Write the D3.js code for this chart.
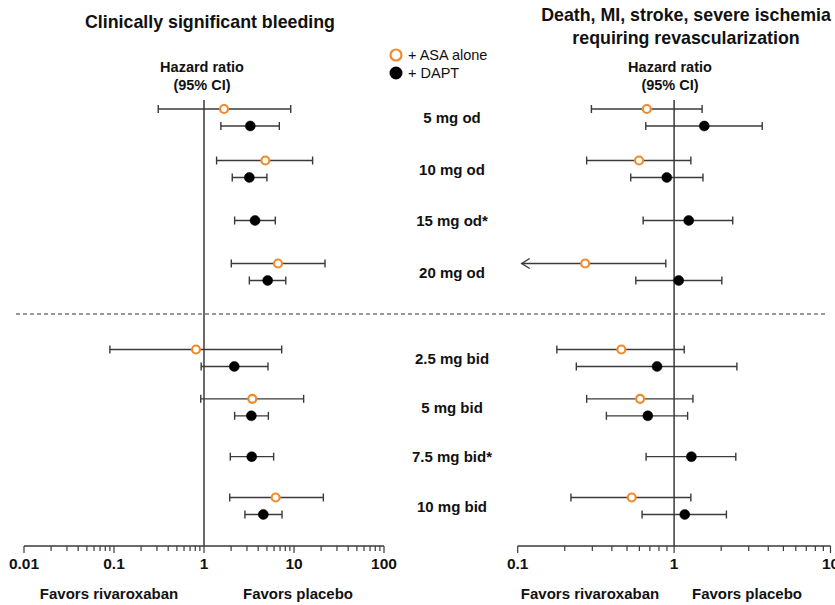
<!DOCTYPE html>
<html>
<head>
<meta charset="utf-8">
<script src="https://cdn.jsdelivr.net/npm/d3@7"></script>
<style>
  body { margin: 0; background: #fff; }
  svg { font-family: "Liberation Sans", Arial, sans-serif; }
</style>
</head>
<body>
<svg id="chart-svg" width="835" height="605"></svg>
<script>
// doses, two sections split by dashed line
const odDoses = ["5 mg od", "10 mg od", "15 mg od*", "20 mg od"];
const bidDoses = ["2.5 mg bid", "5 mg bid", "7.5 mg bid*", "10 mg bid"];
const doses = odDoses.concat(bidDoses);

// Clinically significant bleeding: [low, hr, high], null = not tested
const bleedAsa = [[0.31, 1.67, 9.2], [1.38, 4.8, 16.1], null, [2.01, 6.64, 22.1],
                  [0.09, 0.815, 7.3], [0.92, 3.44, 12.8], null, [1.93, 6.25, 21.2]];
const bleedDapt = [[1.54, 3.27, 6.87], [2.06, 3.19, 5.0], [2.19, 3.69, 6.2], [3.19, 5.1, 8.1],
                   [0.93, 2.17, 5.14], [2.19, 3.36, 5.19], [1.96, 3.39, 5.94], [2.85, 4.56, 7.36]];

// Death, MI, stroke, severe ischemia requiring revascularization
const effAsa = [[0.296, 0.669, 1.51], [0.276, 0.597, 1.28], null, [0.06, 0.27, 0.885],
                [0.178, 0.46, 1.16], [0.276, 0.606, 1.32], null, [0.219, 0.536, 1.28]];
const effDapt = [[0.659, 1.56, 3.66], [0.528, 0.898, 1.53], [0.634, 1.24, 2.37], [0.569, 1.07, 2.02],
                 [0.237, 0.778, 2.52], [0.369, 0.679, 1.22], [0.662, 1.29, 2.48], [0.624, 1.17, 2.16]];

const bleedTicks = [0.01, 0.1, 1, 10, 100];
const effTicks = [0.1, 1, 10];

const orange = "#f08a2c";
const ink = "#3a3a3a";

const svg = d3.select("#chart-svg");
const axisY = 546;

const yOd = d3.scalePoint().domain(odDoses).range([117.5, 272]);
const yBid = d3.scalePoint().domain(bidDoses).range([358, 506]);
const yDose = d => odDoses.includes(d) ? yOd(d) : yBid(d);

const fmt = v => v >= 1 ? d3.format("d")(v) : String(v);

function drawPanel(cfg) {
  const x = d3.scaleLog().domain(cfg.domain).range(cfg.range);
  const g = svg.append("g");

  // axis line + ticks
  g.append("line").attr("x1", x(cfg.domain[0])).attr("x2", x(cfg.domain[1]))
    .attr("y1", axisY).attr("y2", axisY).attr("stroke", ink).attr("stroke-width", 1.5);
  const allTicks = x.ticks();
  g.selectAll(".tk").data(allTicks).join("line")
    .attr("x1", d => x(d)).attr("x2", d => x(d))
    .attr("y1", axisY).attr("y2", d => cfg.ticks.includes(d) ? axisY + 7 : axisY + 5)
    .attr("stroke", ink).attr("stroke-width", 1.2);
  g.selectAll(".tl").data(cfg.ticks).join("text")
    .attr("x", d => x(d)).attr("y", axisY + 23)
    .attr("text-anchor", "middle").attr("font-size", 15.5).attr("font-weight", "bold")
    .attr("fill", "#111").text(fmt);

  // no-effect line
  g.append("line").attr("x1", x(1)).attr("x2", x(1)).attr("y1", 100).attr("y2", axisY)
    .attr("stroke", ink).attr("stroke-width", 1.5);

  // favors labels
  g.append("text").attr("x", cfg.favL).attr("y", 599).attr("text-anchor", "middle")
    .attr("font-size", 15).attr("font-weight", "bold").attr("fill", "#111").text("Favors rivaroxaban");
  g.append("text").attr("x", cfg.favR).attr("y", 599).attr("text-anchor", "middle")
    .attr("font-size", 15).attr("font-weight", "bold").attr("fill", "#111").text("Favors placebo");

  // header
  cfg.title.forEach((t, i) => {
    g.append("text").attr("x", cfg.titleX).attr("y", 28 + i * 23 - (cfg.title.length - 1) * 7)
      .attr("text-anchor", "middle").attr("font-size", 17.8).attr("font-weight", "bold")
      .attr("fill", "#111").text(t);
  });
  ["Hazard ratio", "(95% CI)"].forEach((t, i) => {
    g.append("text").attr("x", cfg.hrX).attr("y", 72 + i * 18)
      .attr("text-anchor", "middle").attr("font-size", 14.5).attr("font-weight", "bold")
      .attr("fill", "#111").text(t);
  });

  const lo = x(cfg.domain[0]);
  const rows = [];
  doses.forEach((d, i) => {
    const a = cfg.asa[i], b = cfg.dapt[i];
    const yc = yDose(d);
    if (a) rows.push({ v: a, y: yc - 8.5, kind: "asa" });
    if (b) rows.push({ v: b, y: a ? yc + 8.5 : yc, kind: "dapt" });
  });

  const row = g.selectAll(".row").data(rows).join("g");
  row.append("line")
    .attr("x1", d => d.v[0] < cfg.domain[0] ? lo + 4 : x(d.v[0]))
    .attr("x2", d => x(d.v[2]))
    .attr("y1", d => d.y).attr("y2", d => d.y)
    .attr("stroke", ink).attr("stroke-width", 1.4);
  row.filter(d => d.v[0] >= cfg.domain[0]).append("line")
    .attr("x1", d => x(d.v[0])).attr("x2", d => x(d.v[0]))
    .attr("y1", d => d.y - 4).attr("y2", d => d.y + 4)
    .attr("stroke", ink).attr("stroke-width", 1.4);
  row.filter(d => d.v[0] < cfg.domain[0]).append("path")
    .attr("d", d => `M${lo + 12},${d.y - 5}L${lo + 4},${d.y}L${lo + 12},${d.y + 5}`)
    .attr("fill", "none").attr("stroke", ink).attr("stroke-width", 1.4);
  row.append("line")
    .attr("x1", d => x(d.v[2])).attr("x2", d => x(d.v[2]))
    .attr("y1", d => d.y - 4).attr("y2", d => d.y + 4)
    .attr("stroke", ink).attr("stroke-width", 1.4);
  row.append("circle")
    .attr("cx", d => x(d.v[1])).attr("cy", d => d.y)
    .attr("r", d => d.kind === "asa" ? 4 : 5)
    .attr("fill", d => d.kind === "asa" ? "#fff" : "#000")
    .attr("stroke", d => d.kind === "asa" ? orange : "#000")
    .attr("stroke-width", d => d.kind === "asa" ? 2.2 : 0.5);
}

drawPanel({ domain: [0.01, 100], range: [24, 384], ticks: bleedTicks, asa: bleedAsa, dapt: bleedDapt,
  title: ["Clinically significant bleeding"], titleX: 210, hrX: 202, favL: 109, favR: 298 });
drawPanel({ domain: [0.1, 10], range: [517.7, 830.5], ticks: effTicks, asa: effAsa, dapt: effDapt,
  title: ["Death, MI, stroke, severe ischemia", "requiring revascularization"], titleX: 686, hrX: 670,
  favL: 590, favR: 747 });

// dose labels
svg.selectAll(".dose").data(doses).join("text")
  .attr("x", 452).attr("y", d => yDose(d) + 5.5)
  .attr("text-anchor", "middle").attr("font-size", 15).attr("font-weight", "bold")
  .attr("fill", "#111").text(d => d);

// section divider
svg.append("line").attr("x1", 16).attr("x2", 826).attr("y1", 314).attr("y2", 314)
  .attr("stroke", "#333").attr("stroke-width", 1.2).attr("stroke-dasharray", "4,3");

// legend
const legend = svg.append("g").attr("transform", "translate(396,55)");
legend.append("circle").attr("cx", 0).attr("cy", 0).attr("r", 5.5)
  .attr("fill", "#fff").attr("stroke", orange).attr("stroke-width", 2.2);
legend.append("circle").attr("cx", 0).attr("cy", 18).attr("r", 6.5).attr("fill", "#000");
legend.append("text").attr("x", 12).attr("y", 5).attr("font-size", 14.5).attr("fill", "#111").text("+ ASA alone");
legend.append("text").attr("x", 12).attr("y", 23).attr("font-size", 14.5).attr("fill", "#111").text("+ DAPT");
</script>
</body>
</html>
